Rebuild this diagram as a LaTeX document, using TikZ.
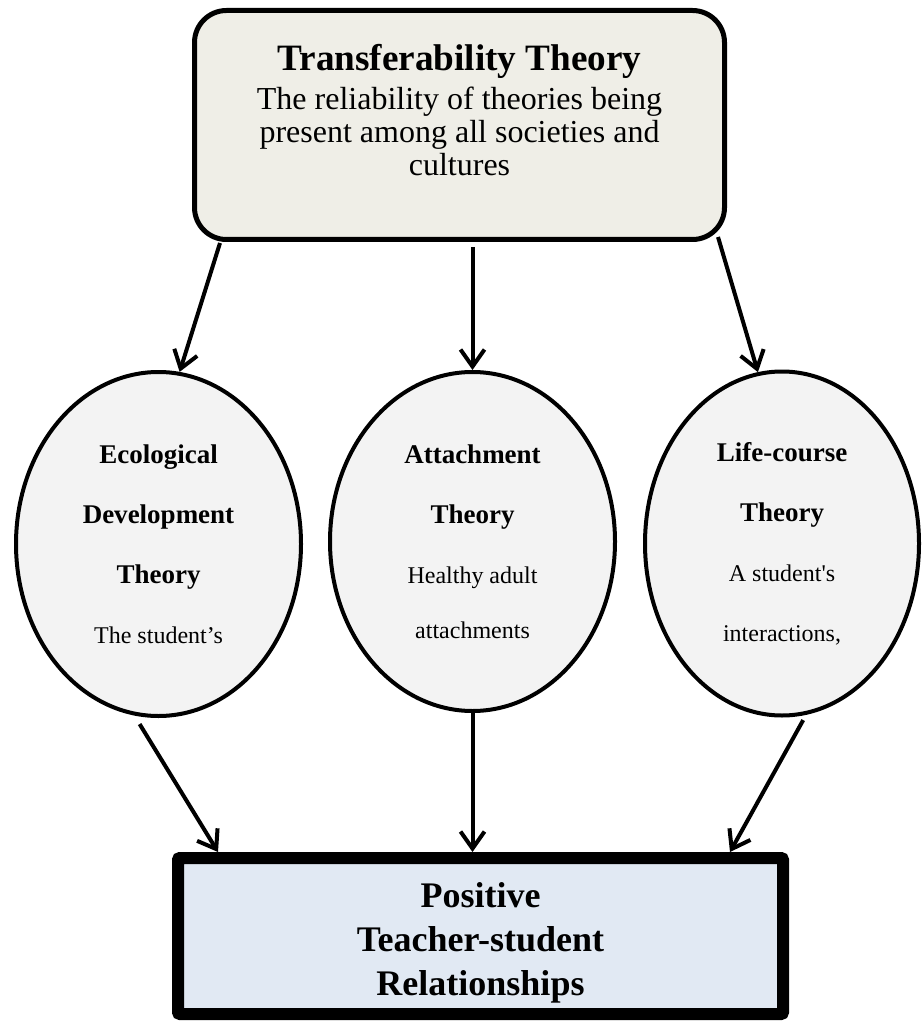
\documentclass[tikz,border=0pt]{standalone}
\usepackage{fontspec}
\setmainfont{Liberation Serif}
\usetikzlibrary{arrows.meta,positioning,calc,shapes.geometric}
\definecolor{paper}{RGB}{239,238,231}
\definecolor{softgrey}{RGB}{243,243,243}
\definecolor{paleblue}{RGB}{225,233,243}
\newcommand{\thname}[1]{{\fontsize{13.5pt}{30pt}\selectfont\bfseries #1}}

\begin{document}
\begin{tikzpicture}[x=0.5pt, y=-0.5pt, >={Straight Barb[length=8.5pt,width=12pt]},
  theory/.style={draw, ellipse, line width=2pt, fill=softgrey, minimum width=142.5pt,
    minimum height=172pt, align=center, font=\fontsize{12pt}{30pt}\selectfont},
  link/.style={->, line width=2pt}]
  \useasboundingbox (0,0) rectangle (922,1021);
  % top box
  \node[draw, rounded corners=16pt, line width=2.5pt, fill=paper, minimum width=265pt,
    minimum height=114.5pt, align=center, font=\fontsize{16pt}{16.5pt}\selectfont] (trans) at (459.5,125)
    {{\fontsize{18.6pt}{20pt}\selectfont\bfseries Transferability Theory}\\[3pt]
     The reliability of theories being\\ present among all societies and\\ cultures\\[-1.5pt]\mbox{}};
  % the three theories
  \node[theory] (eco) at (158.5,544)
    {\thname{Ecological}\\ \thname{Development}\\ \thname{Theory}\\ The student’s};
  \node[theory, minimum height=169.5pt] (att) at (472.5,541.5)
    {\thname{Attachment}\\ \thname{Theory}\\ Healthy adult\\[-2.5pt] attachments};
  \node[theory, minimum width=137pt] (life) at (782,543.5)
    {\thname{Life-course}\\ \thname{Theory}\\ A student\textquotesingle s\\ interactions,};
  % outcome
  \node[draw, line width=6pt, rounded corners=1pt, fill=paleblue, minimum width=302.5pt,
    minimum height=78pt, align=center, font=\fontsize{18pt}{22pt}\selectfont\bfseries] (pos) at (480.5,936)
    {\rule{0pt}{19.5pt}Positive\\ Teacher-student\\ Relationships};
  \draw[link] ($(trans.south west)+(28,1)$) -- (eco.83);
  \draw[link, shorten <=2.5pt] (att.north |- trans.south) -- (att.north);
  \draw[link] ($(trans.south east)+(-9,-5)$) -- (life.98);
  \draw[link, shorten <=5pt] (eco.262) -- ($(pos.north west)+(46,0)$);
  \draw[link] (att.south) -- (att.south |- pos.north);
  \draw[link, shorten <=3pt] (life.278) -- ($(pos.north east)+(-59,0)$);
\end{tikzpicture}
\end{document}
